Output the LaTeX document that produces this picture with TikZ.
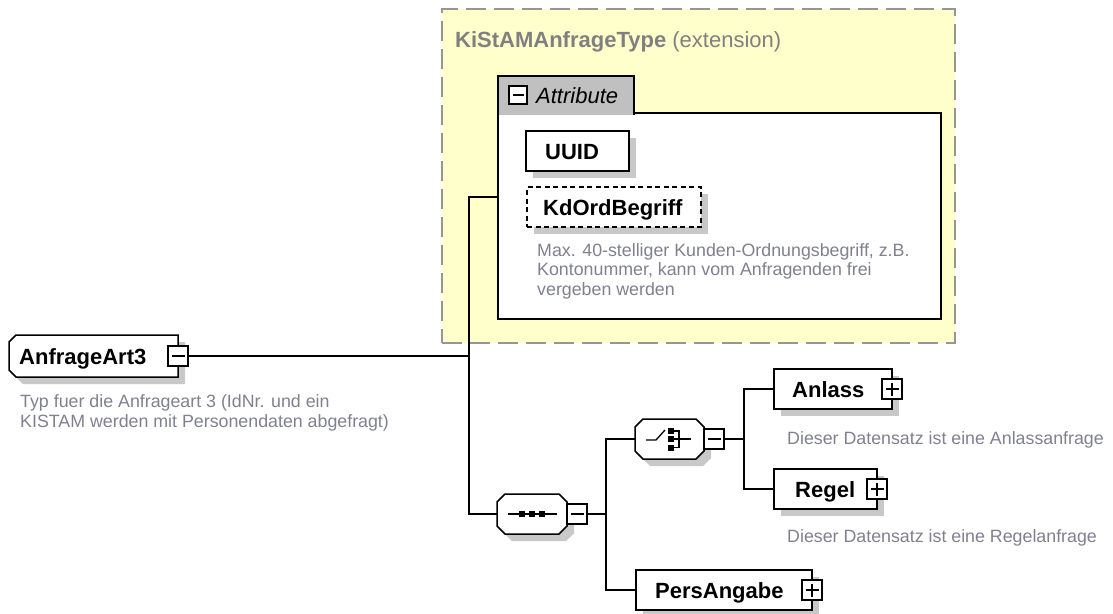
\documentclass[tikz,border=0pt]{standalone}
\usepackage{fontspec}
\setmainfont{Liberation Sans}
\usetikzlibrary{shadows}
\definecolor{yel}{RGB}{255,255,204}
\definecolor{ybord}{RGB}{150,150,150}
\definecolor{shd}{RGB}{200,200,200}
\definecolor{tabg}{RGB}{192,192,192}
\definecolor{desc}{RGB}{128,128,144}
\definecolor{ttl}{RGB}{128,128,128}
\tikzset{
  conn/.style={line width=1.5pt},
  shad/.style={general shadow={fill=shd, shadow xshift=7pt, shadow yshift=-7pt}},
  elbox/.style={draw, line width=1.5pt, fill=white, inner sep=0pt, shad},
  anchorbox/.style={inner sep=0pt},
  lbl/.style={font=\fontsize{22}{26}\selectfont\bfseries, inner sep=0pt, anchor=west, text height=16pt, text depth=0pt},
  dsc/.style={font=\fontsize{17.8}{19.5}\selectfont, text=desc, inner sep=0pt, anchor=base west, align=left},
  pmbox/.style={draw, line width=1.3pt, fill=white, minimum size=20pt, inner sep=0pt},
  minusbox/.style={pmbox, path picture={\draw[line width=1.3pt] ([xshift=3.5pt]path picture bounding box.west) -- ([xshift=-3.5pt]path picture bounding box.east);}},
  plusbox/.style={pmbox, path picture={\draw[line width=1.3pt] ([xshift=3.5pt]path picture bounding box.west) -- ([xshift=-3.5pt]path picture bounding box.east); \draw[line width=1.3pt] ([yshift=-3.5pt]path picture bounding box.north) -- ([yshift=3.5pt]path picture bounding box.south);}},
  icon/.style={line width=1.3pt}
}
% octagon: x1,y1,x2,y2,chamfer
\newcommand\octshape[5]{%
  \fill[shd] (#1+#5+7,#2+7) -- (#3-#5+7,#2+7) -- (#3+7,#2+#5+7) -- (#3+7,#4-#5+7) -- (#3-#5+7,#4+7) -- (#1+#5+7,#4+7) -- (#1+7,#4-#5+7) -- (#1+7,#2+#5+7) -- cycle;
  \filldraw[fill=white, line width=1.5pt] (#1+#5,#2) -- (#3-#5,#2) -- (#3,#2+#5) -- (#3,#4-#5) -- (#3-#5,#4) -- (#1+#5,#4) -- (#1,#4-#5) -- (#1,#2+#5) -- cycle;}
% left-chamfered box
\newcommand\lchshape[5]{%
  \fill[shd] (#1+#5+7,#2+7) -- (#3+7,#2+7) -- (#3+7,#4+7) -- (#1+#5+7,#4+7) -- (#1+7,#4-#5+7) -- (#1+7,#2+#5+7) -- cycle;
  \filldraw[fill=white, line width=1.5pt] (#1+#5,#2) -- (#3,#2) -- (#3,#4) -- (#1+#5,#4) -- (#1,#4-#5) -- (#1,#2+#5) -- cycle;}
\begin{document}
\begin{tikzpicture}[x=1pt,y=-1pt]
\useasboundingbox (0,0) rectangle (1113,613);
% extension group
\node[draw=ybord, dash pattern=on 20pt off 8pt, line width=1.5pt, fill=yel, minimum width=513pt, minimum height=334pt, inner sep=0pt] (ext) at (698.5,176) {};
\node[anchor=base west, inner sep=0pt, text=ttl, font=\fontsize{22}{26}\selectfont] (ttl) at (455,47) {\textbf{KiStAMAnfrageType} (extension)};
% attribute box
\node[draw, line width=1.5pt, fill=white, minimum width=443pt, minimum height=206pt, inner sep=0pt] (attr) at (719.5,216) {};
\node[fill=tabg, minimum width=136pt, minimum height=38.5pt, inner sep=0pt] (tab) at (566,95.25) {};
\draw[line width=1.5pt] (tab.south west) -- (tab.north west) -- (tab.north east) -- (tab.south east);
\node[minusbox, minimum size=18pt] (tabm) at (518,95) {};
\node[font=\fontsize{22}{26}\selectfont\itshape, anchor=west, inner sep=0pt, text height=16pt, text depth=0pt] (tabt) at (536,95) {Attribute};
\node[elbox, minimum width=103pt, minimum height=40pt] (uuid) at (577.5,151) {};
\node[lbl] (uuidt) at (545,151) {UUID};
\node[elbox, dash pattern=on 5pt off 3.5pt, minimum width=174pt, minimum height=40pt] (kd) at (614,207) {};
\node[lbl] (kdt) at (543,207) {KdOrdBegriff};
\node[dsc] (kdd) at (537,295) {Max. 40-stelliger Kunden-Ordnungsbegriff, z.B.\\Kontonummer, kann vom Anfragenden frei\\vergeben werden};
% root element
\lchshape{9}{335}{178}{377}{7}
\node[anchorbox, minimum width=169pt, minimum height=42pt] (art) at (93.5,356) {};
\node[lbl] (artt) at (19,356) {AnfrageArt3};
\node[minusbox] (artm) at (178,356) {};
\node[dsc] (artd) at (20,427) {Typ fuer die Anfrageart 3 (IdNr. und ein\\KISTAM werden mit Personendaten abgefragt)};
% sequence
\octshape{497}{494}{567}{534}{8}
\node[anchorbox, minimum width=70pt, minimum height=40pt] (seq) at (532,514) {};
\node[minusbox] (seqm) at (577,514) {};
\draw[icon] (508,514) -- (557,514);
\fill (519,511) rectangle ++(6,6);
\fill (529,511) rectangle ++(6,6);
\fill (539,511) rectangle ++(6,6);
% choice
\octshape{635}{419}{704}{459}{8}
\node[anchorbox, minimum width=69pt, minimum height=40pt] (ch) at (669.5,439) {};
\node[minusbox] (chm) at (714,439) {};
\draw[icon] (646,440) -- (656,440) -- (665,430);
\fill (667.5,427.5) rectangle (673.5,433.5);
\fill (667.5,436) rectangle (673.5,442);
\fill (667.5,444.5) rectangle (673.5,450.5);
\draw[icon] (673,431) -- (679,431) -- (679,447.5) -- (673,447.5);
\draw[icon] (673,439) -- (691,439);
% children
\node[elbox, minimum width=118pt, minimum height=40pt] (anl) at (833,389) {};
\node[lbl] (anlt) at (792,389) {Anlass};
\node[plusbox] (anlp) at (892,389) {};
\node[dsc] (anld) at (787,444) {Dieser Datensatz ist eine Anlassanfrage};
\node[elbox, minimum width=103pt, minimum height=40pt] (reg) at (825.5,489) {};
\node[lbl] (regt) at (795,489) {Regel};
\node[plusbox] (regp) at (877,489) {};
\node[dsc] (regd) at (787,542) {Dieser Datensatz ist eine Regelanfrage};
\node[elbox, minimum width=176pt, minimum height=40pt] (pers) at (724,590) {};
\node[lbl] (perst) at (655,590) {PersAngabe};
\node[plusbox] (persp) at (812,590) {};
% connectors
\coordinate (j1) at (469,356);
\coordinate (aIn) at (498,197);
\coordinate (j2) at (606,514);
\coordinate (j3) at (744,439);
\draw[conn] (artm.east) -- (j1);
\draw[conn] (aIn) -| (j1) |- (seq.west);
\draw[conn] (seqm.east) -- (j2);
\draw[conn] (ch.west) -| (j2) |- (pers.west);
\draw[conn] (chm.east) -- (j3);
\draw[conn] (anl.west) -| (j3) |- (reg.west);
\end{tikzpicture}
\end{document}
